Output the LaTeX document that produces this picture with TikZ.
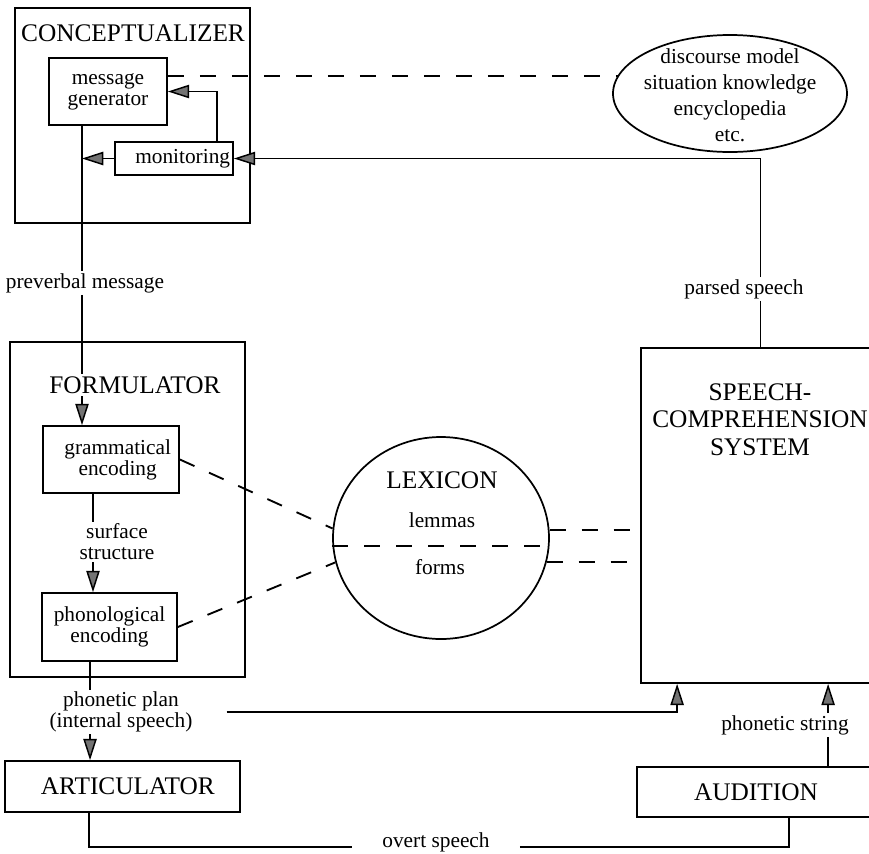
\documentclass[tikz,border=0pt]{standalone}
\usepackage{fontspec}
\setmainfont{Liberation Serif}
\usetikzlibrary{arrows.meta,shapes.geometric,calc}
\newcommand\SmallTxt{\fontsize{16}{15.75}\selectfont}
\newcommand\BigTxt{\fontsize{19}{20.6}\selectfont}
\tikzset{
  box/.style={draw, line width=1.3pt, inner sep=0pt, align=center},
  lbl/.style={inner sep=1.5pt, align=center, font=\SmallTxt},
  ttl/.style={inner sep=2pt, align=center, font=\BigTxt},
  conn/.style={line width=1.1pt},
  arr/.style={line width=1.1pt, -{Triangle[length=16pt,width=10pt,fill=black!55]}},
  dashline/.style={line width=1.4pt, dash pattern=on 12pt off 12pt},
}
\begin{document}
\begin{tikzpicture}[x=0.75pt,y=-0.75pt]
\useasboundingbox (0,0) rectangle (869,854);
\clip (0,0) rectangle (869,854);

% CONCEPTUALIZER
\node[box, minimum width=176.25pt, minimum height=161.25pt] (concept) at (132.5,115.5) {};
\node[ttl] (concepttitle) at (133,33) {CONCEPTUALIZER};
\node[box, font=\SmallTxt, minimum width=88.5pt, minimum height=50.25pt] (msg) at (108,91.5) {message\\generator};
\node[box, font=\SmallTxt, minimum width=88.5pt, minimum height=24.75pt] (mon) at (174,158.5) {\hspace*{13pt}monitoring};

% knowledge ellipse
\node[draw, ellipse, line width=1.3pt, inner sep=0pt, minimum width=175.5pt, minimum height=87.75pt] (kb) at (730,93.5) {};
\node[inner sep=0pt, align=center, font={\fontsize{16}{19.5}\selectfont}] (kbtext) at (730,95) {discourse model\\situation knowledge\\encyclopedia\\etc.};

% FORMULATOR
\node[box, minimum width=176.25pt, minimum height=251.25pt] (form) at (127.5,509.5) {};
\node[ttl] (formtitle) at (135,385) {FORMULATOR};
\node[box, font=\SmallTxt, minimum width=102pt, minimum height=50.25pt] (gram) at (111,459.5) {\hspace*{10pt}grammatical\\\hspace*{10pt}encoding};
\node[lbl] (surf) at (117,542) {surface\\structure};
\node[box, font=\SmallTxt, minimum width=101.25pt, minimum height=51pt] (phon) at (109.5,627) {phonological\\encoding};

% ARTICULATOR
\node[lbl] (pplan) at (121,712) {phonetic plan\\(internal speech)};
\node[box, font=\BigTxt, minimum width=176.25pt, minimum height=38.25pt] (art) at (122.5,786.5) {\hspace*{8pt}ARTICULATOR};

% LEXICON
\node[draw, ellipse, line width=1.3pt, inner sep=0pt, minimum width=162pt, minimum height=151.5pt] (lex) at (441,538) {};
\node[ttl] (lextitle) at (442,480) {LEXICON};
\node[lbl] (lemmas) at (442,520) {lemmas};
\node[lbl] (forms) at (440,567) {forms};

% SPEECH-COMPREHENSION SYSTEM
\node[box, minimum width=179.25pt, minimum height=251.25pt] (scs) at (760.5,515.5) {};
\node[ttl] (scstitle) at (760,419.5) {SPEECH-\\COMPREHENSION\\SYSTEM};
\node[lbl] (parsed) at (744,289) {parsed speech};
\node[lbl] (pstr) at (785,725) {phonetic string};
\node[box, font=\BigTxt, minimum width=178.5pt, minimum height=37.5pt] (aud) at (756,792) {AUDITION};

% labels on the main line
\node[lbl] (prev) at (85,283) {preverbal message};
\node[lbl, inner xsep=22.5pt, anchor=base] (overt) at (436,847) {overt speech};

% helper coordinates
\coordinate (ms) at ([xshift=-19.5pt]msg.south);
\coordinate (gx) at ([xshift=-13.5pt]gram.south);
\coordinate (px) at ([xshift=-14.6pt]phon.south);
\coordinate (ppstart) at ([xshift=24pt]pplan.east);
\coordinate (sin1) at ([xshift=27.75pt]scs.south west);
\coordinate (sin2) at ([xshift=141pt]scs.south west);
\coordinate (artout) at ([xshift=-25.1pt]art.south);
\coordinate (audin) at ([xshift=24.75pt]aud.south);

% conceptualizer connections
\draw[dashline] (msg.east |- kb.171) -- (kb.171);
\draw[arr] ([xshift=32.25pt]mon.north) |- (msg.east);
\draw[conn] (ms) -- (ms |- prev.north);
\draw[arr] (mon.west) -- (ms |- mon.west);
\draw[conn] (ms |- prev.south) -- (ms |- formtitle.north);
\draw[arr] (ms |- formtitle.south) -- (ms |- gram.north);

% formulator internal
\draw[conn] (gx) -- (gx |- surf.north);
\draw[arr] (gx |- surf.south) -- (gx |- phon.north);
\draw[conn] (px) -- (px |- pplan.north);
\draw[arr] (px |- pplan.south) -- (px |- art.north);

% lexicon dashes
\draw[dashline] (gram.east) -- (lex.175);
\draw[dashline] (phon.east) -- (lex.193);
\draw[dashline] (lex.184) -- (lex.356);
\draw[dashline] (lex.4) -- (scs.west |- lex.4);
\draw[dashline] (lex.-13) -- (scs.west |- lex.-13);

% comprehension connections
\draw[arr] (scs.north |- parsed.north) |- (mon.east);
\draw[conn] (scs.north |- parsed.south) -- (scs.north);
\draw[arr] (ppstart) -| (sin1);
\draw[conn] (aud.north -| sin2) -- (pstr.south -| sin2);
\draw[arr] (pstr.north -| sin2) -- (sin2);
\draw[conn] (artout) |- (overt.base west);
\draw[conn] (overt.base east) -| (audin);
\end{tikzpicture}
\end{document}
